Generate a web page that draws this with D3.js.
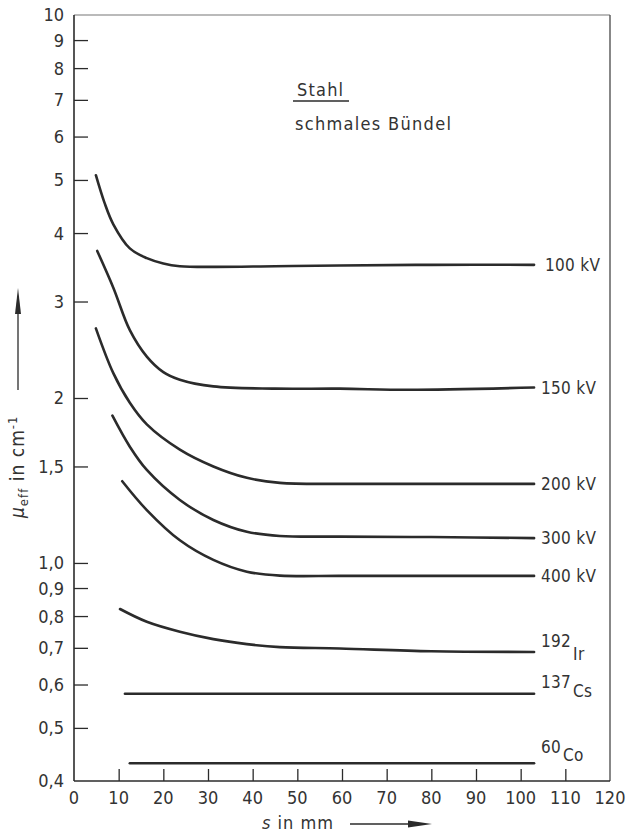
<!DOCTYPE html>
<html>
<head>
<meta charset="utf-8">
<style>
  body { margin: 0; background: #fff; }
  svg text { font-family: "DejaVu Sans Condensed", "Liberation Sans Narrow", "DejaVu Sans", sans-serif; font-stretch: condensed; fill: #333; }
</style>
<script src="https://cdn.jsdelivr.net/npm/d3@7"></script>
</head>
<body>
<svg id="chart" width="628" height="833"></svg>
<script>
// values: s in mm, mu_eff in 1/cm
var s100 = [4.9, 6.8, 8.8, 12.5, 16.3, 20, 23.7, 31.2, 45, 59.5, 80, 103];
var mu100 = [5.1, 4.55, 4.15, 3.75, 3.6, 3.52, 3.48, 3.47, 3.48, 3.49, 3.5, 3.5];

var s150 = [5.2, 8.8, 12.5, 16.3, 20, 23.7, 31.2, 45, 59.5, 75, 103];
var mu150 = [3.71, 3.18, 2.66, 2.38, 2.23, 2.16, 2.1, 2.08, 2.08, 2.07, 2.09];

var s200 = [4.9, 8.8, 12.5, 16.3, 23.7, 31.2, 38.7, 46.1, 59.5, 80, 103];
var mu200 = [2.68, 2.22, 1.96, 1.79, 1.61, 1.5, 1.43, 1.4, 1.394, 1.394, 1.394];

var s300 = [8.6, 12.5, 16.3, 23.7, 31.2, 38.7, 46.1, 59.5, 80, 103];
var mu300 = [1.857, 1.63, 1.478, 1.303, 1.198, 1.14, 1.12, 1.117, 1.115, 1.11];

var s400 = [10.8, 16.3, 23.7, 31.2, 38.7, 46.1, 59.5, 80, 103];
var mu400 = [1.41, 1.249, 1.1, 1.013, 0.964, 0.948, 0.947, 0.947, 0.947];

var sIr = [10.3, 16.3, 23.7, 31.2, 38.7, 46.1, 59.5, 80, 103];
var muIr = [0.824, 0.781, 0.749, 0.726, 0.711, 0.702, 0.698, 0.69, 0.688];

var sCs = [11.4, 103];
var muCs = [0.577, 0.577];

var sCo = [12.5, 103];
var muCo = [0.431, 0.431];

var yTicks = [0.5, 0.6, 0.7, 0.8, 0.9, 1.0, 1.5, 2, 3, 4, 5, 6, 7, 8, 9];
var yLabelVals = [0.4, 0.5, 0.6, 0.7, 0.8, 0.9, 1.0, 1.5, 2, 3, 4, 5, 6, 7, 8, 9, 10];
var yLabels = ["0,4", "0,5", "0,6", "0,7", "0,8", "0,9", "1,0", "1,5", "2", "3", "4", "5", "6", "7", "8", "9", "10"];
var xTicks = [10, 20, 30, 40, 50, 60, 70, 80, 90, 100, 110];
var xLabelVals = [0, 10, 20, 30, 40, 50, 60, 70, 80, 90, 100, 110, 120];

var kvNames = ["100 kV", "150 kV", "200 kV", "300 kV", "400 kV"];
var isoMass = ["192", "137", "60"];
var isoElem = ["Ir", "Cs", "Co"];

var svg = d3.select("#chart");
var ink = "#2b2b2b";

var x = d3.scaleLinear().domain([0, 120]).range([74, 610]);
var y = d3.scaleLog().domain([0.4, 10]).range([781, 15]);

// frame
svg.append("line").attr("x1", 74).attr("x2", 610).attr("y1", 15).attr("y2", 15)
    .attr("stroke", "#777").attr("stroke-width", 1.2);
svg.append("line").attr("x1", 610).attr("x2", 610).attr("y1", 15).attr("y2", 781)
    .attr("stroke", "#555").attr("stroke-width", 1.4);

// y axis, ticks pointing inside
var yAxis = svg.append("g").attr("transform", "translate(74,0)")
    .call(d3.axisLeft(y).tickValues(yTicks).tickSize(-14).tickFormat(""));
yAxis.select(".domain").remove();
yAxis.selectAll("line").attr("stroke", ink).attr("stroke-width", 1.3);
svg.append("line").attr("x1", 74).attr("x2", 74).attr("y1", 15).attr("y2", 781)
    .attr("stroke", ink).attr("stroke-width", 1.6);

svg.append("g").selectAll("text").data(yLabelVals).join("text")
    .attr("x", 64).attr("y", function (d) { return y(d); }).attr("dy", "0.36em")
    .attr("text-anchor", "end").style("font-size", "18px")
    .text(function (d, i) { return yLabels[i]; });

// x axis, ticks pointing inside
var xAxis = svg.append("g").attr("transform", "translate(0,781)")
    .call(d3.axisBottom(x).tickValues(xTicks).tickSize(-12).tickFormat(""));
xAxis.select(".domain").remove();
xAxis.selectAll("line").attr("stroke", ink).attr("stroke-width", 1.3);
svg.append("line").attr("x1", 74).attr("x2", 610).attr("y1", 781).attr("y2", 781)
    .attr("stroke", ink).attr("stroke-width", 1.6);

svg.append("g").selectAll("text").data(xLabelVals).join("text")
    .attr("x", function (d) { return x(d); }).attr("y", 804)
    .attr("text-anchor", "middle").style("font-size", "18px")
    .text(function (d) { return d; });

// curves
var line = d3.line()
    .x(function (d) { return x(d[0]); })
    .y(function (d) { return y(d[1]); })
    .curve(d3.curveCatmullRom.alpha(0.5));

var series = [[s100, mu100], [s150, mu150], [s200, mu200], [s300, mu300], [s400, mu400],
              [sIr, muIr], [sCs, muCs], [sCo, muCo]];
series.forEach(function (sr) {
    var pts = sr[0].map(function (s, i) { return [s, sr[1][i]]; });
    svg.append("path").datum(pts).attr("fill", "none").attr("stroke", ink)
        .attr("stroke-width", 2.6).attr("stroke-linecap", "round").attr("d", line);
});

// right-hand labels
kvNames.forEach(function (name, i) {
    var sr = series[i];
    var last = sr[1][sr[1].length - 1];
    svg.append("text").attr("x", i == 0 ? 545 : 541).attr("y", y(last)).attr("dy", "0.36em")
        .style("font-size", "17px").style("letter-spacing", "0.3px").text(name);
});
var isoOff = [[-11, 2], [-12, -3], [-16, -8]];
isoMass.forEach(function (m, i) {
    var sr = series[5 + i];
    var last = y(sr[1][sr[1].length - 1]);
    var t = svg.append("text").attr("x", 541).attr("y", last + isoOff[i][0]).attr("dy", "0.36em")
        .style("font-size", "17px").style("letter-spacing", "0.3px");
    t.append("tspan").text(m);
    t.append("tspan").attr("dx", 2).attr("dy", isoOff[i][1] - isoOff[i][0]).text(isoElem[i]);
});

// title block
svg.append("text").attr("x", 297).attr("y", 96).style("font-size", "18px")
    .style("letter-spacing", "1.2px").text("Stahl");
svg.append("line").attr("x1", 293).attr("x2", 349).attr("y1", 101).attr("y2", 101)
    .attr("stroke", ink).attr("stroke-width", 1.3);
svg.append("text").attr("x", 295).attr("y", 130).style("font-size", "18px")
    .style("letter-spacing", "1.3px").text("schmales Bündel");

// y axis title with arrow
var yt = svg.append("text").attr("transform", "translate(24,518) rotate(-90)")
    .style("font-size", "19px").style("letter-spacing", "1px");
yt.append("tspan").style("font-style", "italic").text("μ");
yt.append("tspan").attr("dy", 4).style("font-size", "13px").text("eff");
yt.append("tspan").attr("dy", -4).text(" in cm");
yt.append("tspan").attr("dy", -7).style("font-size", "13px").text("-1");
svg.append("line").attr("x1", 18).attr("x2", 18).attr("y1", 390).attr("y2", 305)
    .attr("stroke", ink).attr("stroke-width", 1.3);
svg.append("path").attr("d", "M18,288 L21,314 L15,314 Z").attr("fill", ink);

// x axis title with arrow
var xt = svg.append("text").attr("x", 262).attr("y", 829).style("font-size", "18px")
    .style("letter-spacing", "1px");
xt.append("tspan").style("font-style", "italic").text("s");
xt.append("tspan").text(" in mm");
svg.append("line").attr("x1", 350).attr("x2", 412).attr("y1", 824).attr("y2", 824)
    .attr("stroke", ink).attr("stroke-width", 1.3);
svg.append("path").attr("d", "M432,824 L408,820.5 L408,827.5 Z").attr("fill", ink);
</script>
</body>
</html>
